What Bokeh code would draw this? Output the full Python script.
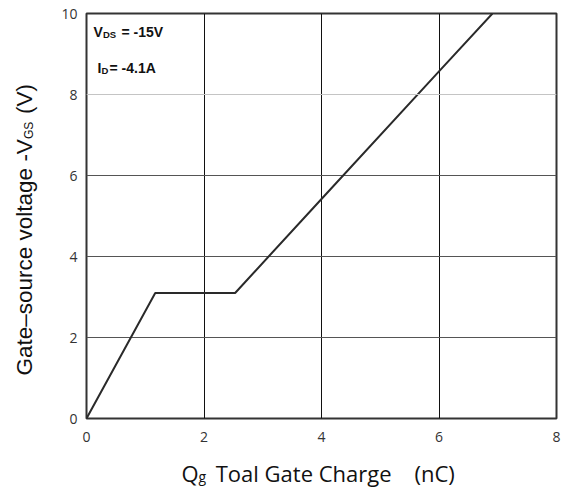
import math
from bokeh.plotting import figure
from bokeh.models import Label, FixedTicker, Range1d, Span
from bokeh.embed import file_html
from bokeh.resources import INLINE

# data
qg = [0.0, 1.17, 2.53, 4.0, 6.0, 6.91]
vgs = [0.0, 3.10, 3.10, 5.42, 8.57, 10.0]
x_ticks = [0, 2, 4, 6, 8]
y_ticks = [0, 2, 4, 6, 8, 10]

W, H = 567, 488
p = figure(width=W, height=H, output_backend="svg", toolbar_location=None,
           x_range=Range1d(0, 8), y_range=Range1d(0, 10),
           min_border_left=86, min_border_right=11, min_border_top=13, min_border_bottom=70)

p.line(qg, vgs, line_color="#2a2a2a", line_width=2)

p.outline_line_color = "#333333"
p.outline_line_width = 2
p.background_fill_color = "white"
p.border_fill_color = "white"

for ax in (p.xaxis, p.yaxis):
    ax.axis_line_color = None
    ax.major_tick_line_color = None
    ax.minor_tick_line_color = None
    ax.major_tick_out = 0
    ax.major_label_text_font = "Open Sans"
    ax.major_label_text_font_size = "14px"
    ax.major_label_text_color = "#333333"
p.xaxis.ticker = FixedTicker(ticks=x_ticks)
p.yaxis.ticker = FixedTicker(ticks=y_ticks)
p.xaxis.major_label_standoff = 13
p.yaxis.major_label_standoff = 9

p.xgrid.ticker = FixedTicker(ticks=x_ticks)
p.ygrid.ticker = FixedTicker(ticks=y_ticks)
p.xgrid.grid_line_color = "#111111"
p.xgrid.grid_line_width = 1
p.ygrid.grid_line_color = "#555555"
p.ygrid.grid_line_width = 1
p.add_layout(Span(location=y_ticks[4], dimension="width", line_color="#c4c4c4", line_width=1))


def lab(text, x, y, size, bold=False, font="Open Sans", angle=0, color="#111111",
        units="screen", place="center", **kw):
    l = Label(x=x, y=y, x_units=units, y_units=units, text=text,
              text_font=font, text_font_size=size, text_color=color,
              text_font_style="bold" if bold else "normal", angle=angle, **kw)
    p.add_layout(l, place)

# inside annotations
lab("V", 7, 379, "14px", bold=True, font="Liberation Sans")
lab("DS", 16.5, 379, "9.5px", bold=True, font="Liberation Sans")
lab("= -15V", 35, 379, "14px", bold=True, font="Liberation Sans")
lab("I", 11, 343, "14px", bold=True, font="Liberation Sans")
lab("D", 15, 343, "9.5px", bold=True, font="Liberation Sans")
lab("= -4.1A", 23, 343, "14px", bold=True, font="Liberation Sans")

NB = "\u00a0"
# y-axis title (rotated) in left panel, canvas units
yf = "Liberation Sans"
lab("Gate\u2013source voltage -V" + NB * 4 + "(V)", 24, 375, "22.5px", font=yf,
    angle=math.pi / 2, text_baseline="alphabetic", units="canvas", place="left")
lab("GS", 28.5, 138.6, "12px", font=yf, angle=math.pi / 2,
    text_baseline="alphabetic", units="canvas", place="left")

# x-axis title
lab("Q" + NB * 3 + "Toal Gate Charge" + NB * 4 + "(nC)", 181, 472, "22px",
    text_baseline="alphabetic", units="canvas", place="below")
lab("g", 198, 476, "14px", text_baseline="alphabetic", units="canvas", place="left")

open("out.html", "w").write(file_html(p, INLINE))
